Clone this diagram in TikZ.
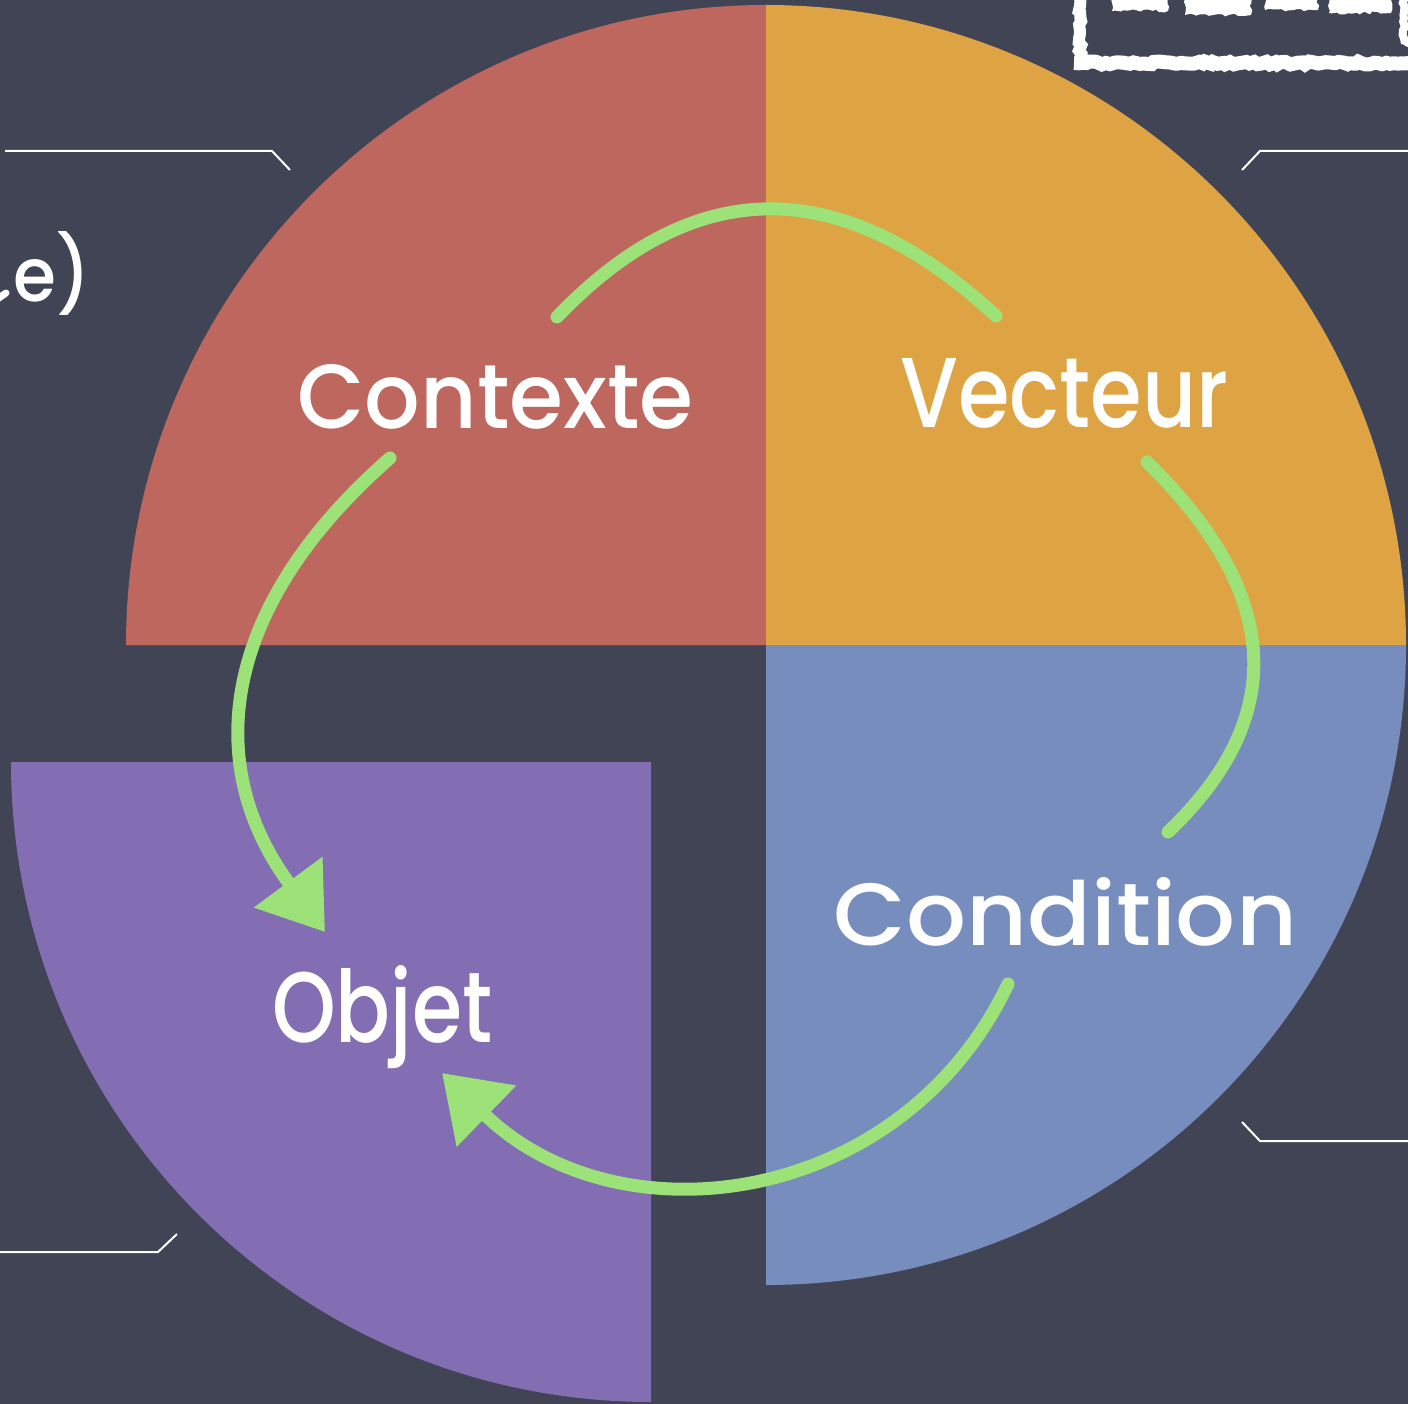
\documentclass[tikz,border=0pt]{standalone}
\usepackage{fontspec}
\newfontfamily\chalkfont{Poppins}[UprightFont={* Medium}]
\usetikzlibrary{arrows.meta,decorations.pathmorphing}

\definecolor{board}{RGB}{64,68,85}
\definecolor{qred}{RGB}{190,103,95}
\definecolor{qorange}{RGB}{222,164,68}
\definecolor{qblue}{RGB}{118,141,189}
\definecolor{qpurple}{RGB}{131,110,180}
\definecolor{chalkgreen}{RGB}{156,226,120}

\begin{document}
\begin{tikzpicture}[x=1pt,y=-1pt,
  chalktext/.style={text=white,inner sep=0pt,anchor=base west,font=\chalkfont},
  chalkarc/.style={draw=chalkgreen,line width=13pt,line cap=round},
  headtip/.style={-{Triangle[length=62pt,width=82pt]}},
  guide/.style={draw=white,line width=2pt},
  chalkline/.style={draw=white,line width=12pt,decorate,
    decoration={random steps,segment length=4pt,amplitude=1.5pt}},
  chalkblob/.style={fill=white,decorate,
    decoration={random steps,segment length=4pt,amplitude=1.5pt}},
]
% page and board
\useasboundingbox (0,0) rectangle (1408,1404);
\clip (0,0) rectangle (1408,1404);
\fill[board] (0,0) rectangle (1408,1404);

% four quarter discs
\fill[qred]    (766,645) -- (126,645)  arc[start angle=180, end angle=90,  radius=640pt] -- cycle;
\fill[qorange] (766,645) -- (766,5)    arc[start angle=90,  end angle=0,   radius=640pt] -- cycle;
\fill[qblue]   (766,645) -- (1406,645) arc[start angle=0,   end angle=-90, radius=640pt] -- cycle;
\fill[qpurple] (651,762) -- (651,1402) arc[start angle=270, end angle=180, radius=640pt] -- cycle;

% callout leader lines
\draw[guide] (5,151) -- (272,151) -- (290,170);
\draw[guide] (1242,170) -- (1260,151) -- (1412,151);
\draw[guide] (1242,1122) -- (1260,1141) -- (1412,1141);
\draw[guide] (-4,1252) -- (158,1252) -- (177,1234);

% chalk frame in the upper right corner
\draw[chalkline] (1080,-6) -- (1080,64);
\draw[chalkline,line width=14pt] (1074,63) -- (1414,63);
\draw[chalkline,line width=8pt] (1404,-6) -- (1404,45);
\fill[chalkblob] (1112,-6) rectangle (1168,11);
\fill[chalkblob] (1185,-6) rectangle (1251,15);
\fill[chalkblob] (1265,-6) rectangle (1318,10);
\fill[chalkblob] (1329,-6) rectangle (1391,13);

% partial chalk word on the left edge
\node[chalktext] (leftword) at (13,302) {\resizebox{77pt}{70pt}{e)}};
\draw[white,line width=7pt,line cap=round] (-4,300) -- (6,293);

% labels
\node[chalktext] (contexte)  at (297,428)  {\resizebox{396pt}{64pt}{Contexte}};
\node[chalktext] (vecteur)   at (900,428)  {\resizebox{328pt}{69pt}{Vecteur}};
\node[chalktext] (condition) at (833,945)  {\resizebox{464pt}{68pt}{Condition}};
\node[chalktext] (objet)     at (272,1042) {\resizebox{220pt}{77pt}{Objet}};

% arrow end points
\coordinate (topS)   at (557,317);
\coordinate (topE)   at (996,316);
\coordinate (rightS) at (1147,462);
\coordinate (rightE) at (1168,832);
\coordinate (leftS)  at (390,458);
\coordinate (leftE)  at (325,932);
\coordinate (botS)   at (1008,984);
\coordinate (botE)   at (442,1073);

% green chalk arrows of the cycle
\draw[chalkarc] (topS) .. controls (695,173) and (841,173) .. (topE);
\draw[chalkarc] (rightS) .. controls (1282,594) and (1289,717) .. (rightE);
\draw[chalkarc,headtip] (leftS) .. controls (222,605) and (200,763) .. (leftE);
\draw[chalkarc,headtip] (botS) .. controls (902,1207) and (619,1245) .. (botE);
\end{tikzpicture}
\end{document}
